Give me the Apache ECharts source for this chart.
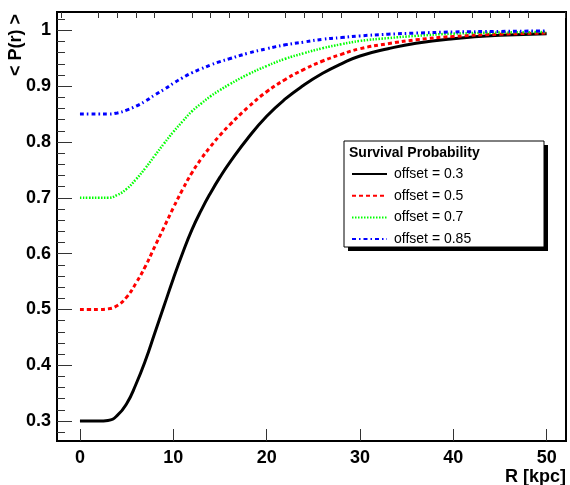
<!DOCTYPE html>
<html>
<head>
<meta charset="utf-8">
<script src="https://cdn.jsdelivr.net/npm/echarts@6/dist/echarts.min.js"></script>
<style>
  html, body { margin: 0; padding: 0; background: #fff; }
  #chart { width: 570px; height: 485px; }
</style>
</head>
<body>
<div id="chart"></div>
<script>
// radius in kpc
const radius = [0, 1, 2, 3, 4, 5, 6, 7, 8, 9, 10, 11, 12, 13, 14, 15, 16, 18, 20, 22, 24, 26, 28, 30, 33, 36, 40, 45, 50]

const offset03 = [0.3, 0.3, 0.3, 0.301, 0.31, 0.331, 0.366, 0.408, 0.457, 0.506, 0.555, 0.601, 0.643, 0.678, 0.709, 0.737, 0.762, 0.807, 0.846, 0.877, 0.902, 0.923, 0.94, 0.954, 0.967, 0.977, 0.985, 0.991, 0.994]
const offset05 = [0.5, 0.5, 0.5, 0.501, 0.507, 0.522, 0.547, 0.577, 0.612, 0.647, 0.682, 0.715, 0.745, 0.77, 0.792, 0.812, 0.83, 0.862, 0.89, 0.912, 0.93, 0.945, 0.957, 0.967, 0.976, 0.983, 0.989, 0.993, 0.995]
const offset07 = [0.7, 0.7, 0.7, 0.7, 0.705, 0.716, 0.733, 0.753, 0.775, 0.797, 0.818, 0.837, 0.855, 0.869, 0.882, 0.893, 0.903, 0.921, 0.936, 0.949, 0.959, 0.968, 0.975, 0.981, 0.986, 0.99, 0.994, 0.996, 0.997]
const offset085 = [0.85, 0.85, 0.85, 0.85, 0.852, 0.857, 0.864, 0.873, 0.884, 0.894, 0.905, 0.915, 0.924, 0.931, 0.938, 0.944, 0.949, 0.959, 0.967, 0.974, 0.979, 0.984, 0.987, 0.99, 0.993, 0.995, 0.997, 0.998, 0.999]

const seriesNames = ["offset = 0.3", "offset = 0.5", "offset = 0.7", "offset = 0.85"]

const xMajorTicks = [0, 10, 20, 30, 40, 50]
const xMinorTicks = [-2, 2, 4, 6, 8, 12, 14, 16, 18, 22, 24, 26, 28, 32, 34, 36, 38, 42, 44, 46, 48, 52]
const yMajorTicks = [0.3, 0.4, 0.5, 0.6, 0.7, 0.8, 0.9, 1]
const yMinorTicks = [0.28, 0.32, 0.34, 0.36, 0.38, 0.42, 0.44, 0.46, 0.48, 0.52, 0.54, 0.56, 0.58, 0.62, 0.64, 0.66, 0.68, 0.72, 0.74, 0.76, 0.78, 0.82, 0.84, 0.86, 0.88, 0.92, 0.94, 0.96, 0.98, 1.02]

const font = "Liberation Sans, Arial, Helvetica, sans-serif"

function pairs(ys) {
    return radius.map(function (r, i) { return [r, ys[i]] })
}

function lineSeries(name, ys, color, width, dash) {
    return {
        name: name,
        type: 'line',
        data: pairs(ys),
        symbol: 'none',
        smooth: true,
        lineStyle: { color: color, width: width, type: dash },
        itemStyle: { color: color },
        z: 3
    }
}

const xMin = -2.46, xMax = 52.07
const yMin = 0.2643, yMax = 1.0328

const option = {
    animation: false,
    grid: {
        left: 57, right: 4, top: 12, bottom: 44,
        show: true, borderColor: '#000', borderWidth: 2, backgroundColor: 'transparent'
    },
    xAxis: [
        {
            type: 'value', min: xMin, max: xMax,
            axisLine: { show: false, onZero: false },
            splitLine: { show: false },
            axisTick: { show: true, inside: true, length: 12, customValues: xMajorTicks, lineStyle: { color: '#333', width: 1 } },
            axisLabel: {
                customValues: xMajorTicks, margin: 8,
                color: '#000', fontFamily: font, fontWeight: 'bold', fontSize: 18
            }
        },
        {
            type: 'value', min: xMin, max: xMax,
            axisLine: { show: false, onZero: false },
            splitLine: { show: false },
            axisTick: { show: true, inside: true, length: 6, customValues: xMinorTicks, lineStyle: { color: '#333', width: 1 } },
            axisLabel: { show: false }
        }
    ],
    yAxis: [
        {
            type: 'value', min: yMin, max: yMax, position: 'left',
            axisLine: { show: false, onZero: false },
            splitLine: { show: false },
            axisTick: { show: true, inside: true, length: 15, customValues: yMajorTicks, lineStyle: { color: '#333', width: 1 } },
            axisLabel: {
                customValues: yMajorTicks, margin: 6,
                color: '#000', fontFamily: font, fontWeight: 'bold', fontSize: 18
            }
        },
        {
            type: 'value', min: yMin, max: yMax, position: 'left',
            axisLine: { show: false, onZero: false },
            splitLine: { show: false },
            axisTick: { show: true, inside: true, length: 8, customValues: yMinorTicks, lineStyle: { color: '#333', width: 1 } },
            axisLabel: { show: false }
        }
    ],
    legend: {
        orient: 'vertical',
        left: 351, top: 167, padding: 0,
        itemWidth: 35, itemHeight: 14, itemGap: 7.7,
        itemStyle: { opacity: 0 },
        data: seriesNames,
        textStyle: { fontFamily: font, fontSize: 14, color: '#000', padding: [0, 0, 0, 2] },
        z: 10
    },
    graphic: [
        { type: 'rect', shape: { x: 348, y: 145, width: 200, height: 106 }, style: { fill: '#000' }, z: 5 },
        { type: 'rect', shape: { x: 344, y: 141, width: 200, height: 106 }, style: { fill: '#fff', stroke: '#000', lineWidth: 1 }, z: 6 },
        {
            type: 'text', x: 349, y: 153, z: 7,
            style: { text: 'Survival Probability', font: 'bold 14px ' + font, fill: '#000', verticalAlign: 'middle' }
        },
        {
            type: 'text', x: 16, y: 14, rotation: Math.PI / 2,
            style: { text: '< P(r) >', font: 'bold 18px ' + font, fill: '#000', align: 'right', verticalAlign: 'middle' }
        },
        {
            type: 'text', x: 566, y: 477,
            style: { text: 'R [kpc]', font: 'bold 18px ' + font, fill: '#000', align: 'right', verticalAlign: 'middle' }
        }
    ],
    series: [
        lineSeries(seriesNames[0], offset03, '#000000', 3, 'solid'),
        lineSeries(seriesNames[1], offset05, '#ff0000', 3, [4, 3]),
        lineSeries(seriesNames[2], offset07, '#00ff00', 2.5, [1.5, 1.5]),
        lineSeries(seriesNames[3], offset085, '#0000ff', 3, [4, 3, 1.5, 3])
    ]
}

const chart = echarts.init(document.getElementById('chart'))
chart.setOption(option)
</script>
</body>
</html>
